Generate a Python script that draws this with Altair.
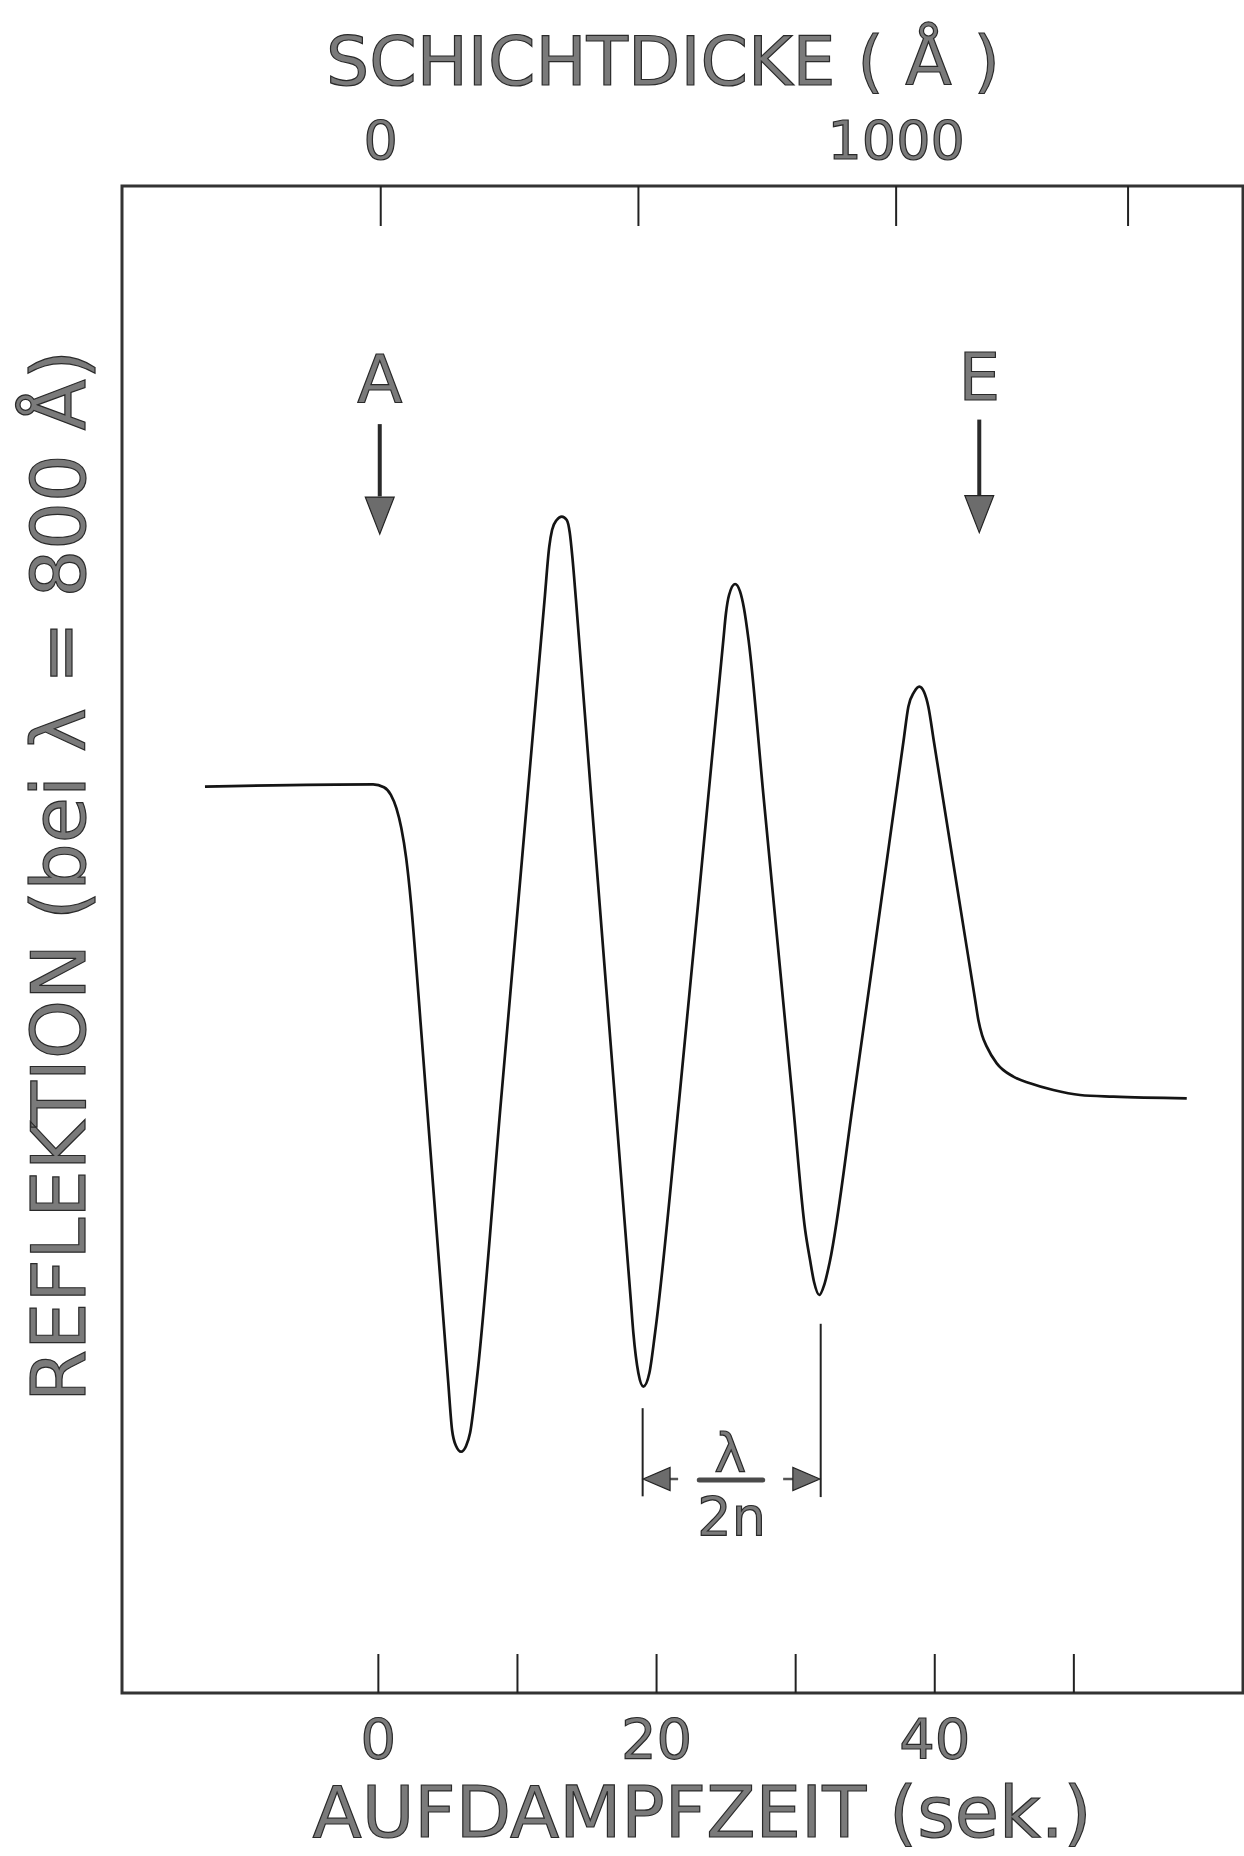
import altair as alt
import pandas as pd

# Reflection trace recorded during evaporation: time (s) and reflectance (arb. units)
time_s = [-12.465, -0.381, 0.4, 0.9, 1.3, 1.65, 2.0, 2.35, 2.7, 3.03, 3.46, 4.016, 4.58,
          5.011, 5.299, 5.586, 5.946, 6.306, 6.592, 7.074, 8.821, 10.697, 11.948, 12.286,
          12.488, 12.825, 13.185, 13.544, 13.76, 13.955, 14.206, 15.320, 17.017, 18.146,
          18.332, 18.692, 19.051, 19.483, 19.892, 21.625, 23.696, 24.802, 24.989, 25.212,
          25.643, 26.00, 26.28, 26.614, 27.714, 29.784, 30.683, 31.035, 31.323, 31.704,
          32.06, 32.45, 34.155, 36.161, 37.764, 38.102, 38.512, 38.893, 39.231, 39.540,
          39.921, 41.754, 42.905, 43.135, 43.401, 43.739, 44.457, 45.651, 46.851, 48.526,
          50.446, 52.840, 58.117]
reflection = [60.15, 60.29, 60.1, 59.6, 58.7, 57.4, 55.4, 52.4, 48.5, 44.54, 39.38, 32.71,
              25.94, 20.77, 17.45, 16.39, 16.01, 16.39, 17.25, 20.77, 39.35, 59.26, 72.53,
              76.07, 77.17, 77.84, 78.06, 77.84, 77.0, 75.3, 72.53, 59.26, 39.35, 26.08,
              23.89, 21.23, 20.33, 21.23, 23.89, 39.35, 59.26, 69.88, 71.65, 72.86,
              73.59, 73.1, 72.0, 69.88, 59.26, 39.35, 30.72, 28.73, 27.27, 26.41,
              27.1, 28.6, 39.35, 52.62, 63.24, 65.45, 66.42, 66.78, 66.42, 65.45,
              63.24, 52.62, 45.99, 44.66, 43.66, 42.89, 41.78, 40.90, 40.46, 40.01,
              39.68, 39.57, 39.46]

# Axis ticks (drawn inside the frame) and their labels
time_ticks = [0, 10, 20, 30, 40, 50]
time_labels = [0, 20, 40]
thickness_ticks = [0, 500, 1000, 1450]
thickness_labels = [0, 1000]

# Start (A) and end (E) of evaporation
marker_names = ["A", "E"]
marker_time = [0.1, 43.2]
marker_text_r = [85.7, 85.8]
marker_shaft_top = [84.2, 84.5]
marker_head_base = [79.4, 79.4]
marker_tip = [76.9, 77.0]

# Spacing between two neighbouring minima: lambda / 2n
bracket_time = [19.0, 31.8]
bracket_low = [13.05, 13.0]
bracket_high = [18.9, 24.5]
arrow_r = 14.2
arrow_tip_time = [19.03, 31.74]
arrow_stub_from = [20.6, 29.1]
arrow_stub_to = [21.55, 30.3]
fraction_bar = [23.07, 27.63]
fraction_r = 14.13
fraction_time = 25.3
numerator_r = 14.66
denominator_r = 10.48

T_DOMAIN = [-18.43, 62.16]
A_DOMAIN = [-502, 1673]
R_DOMAIN = [0, 100]

W, H = 1121, 1507
FONT = "DejaVu Sans"
INK = "#141414"
TEXT_FILL = "#7a7a7a"
TEXT_STROKE = "#2a2a2a"

xs = alt.Scale(domain=T_DOMAIN, nice=False, zero=False)
xa = alt.Scale(domain=A_DOMAIN, nice=False, zero=False)
ys = alt.Scale(domain=R_DOMAIN, nice=False, zero=False)


def tx(field="t"):
    return alt.X(f"{field}:Q", scale=xs, axis=None)


def ax(field="a"):
    return alt.X(f"{field}:Q", scale=xa, axis=None)


def ry(field="r"):
    return alt.Y(f"{field}:Q", scale=ys, axis=None)


def lettering(size, **kw):
    return dict(font=FONT, fontSize=size, fill=TEXT_FILL, stroke=TEXT_STROKE,
                strokeWidth=1.2, **kw)


curve_df = pd.DataFrame({"t": time_s, "r": reflection})
curve = alt.Chart(curve_df).mark_line(
    interpolate="monotone", color=INK, strokeWidth=2.7
).encode(x=tx(), y=ry())

# ticks inside the frame
bottom_ticks = alt.Chart(pd.DataFrame({"t": time_ticks})).mark_rule(
    color="#222222", strokeWidth=2
).encode(x=tx(), y=alt.value(H), y2=alt.value(H - 39))

top_ticks = alt.Chart(pd.DataFrame({"a": thickness_ticks})).mark_rule(
    color="#222222", strokeWidth=2
).encode(x=ax(), y=alt.value(0), y2=alt.value(40))

bottom_labels = alt.Chart(pd.DataFrame({"t": time_labels})).mark_text(
    **lettering(56, baseline="alphabetic", align="center")
).encode(x=tx(), y=alt.value(H + 65), text="t:Q")

top_labels = alt.Chart(pd.DataFrame({"a": thickness_labels})).mark_text(
    **lettering(54, baseline="alphabetic", align="center")
).encode(x=ax(), y=alt.value(-27), text="a:Q")

# axis titles
top_title = alt.Chart(pd.DataFrame({"s": ["SCHICHTDICKE ( Å )"]})).mark_text(
    **lettering(68, baseline="alphabetic", align="center")
).encode(x=alt.value(541), y=alt.value(-101), text="s:N")

bottom_title = alt.Chart(pd.DataFrame({"s": ["AUFDAMPFZEIT (sek.)"]})).mark_text(
    **lettering(72, baseline="alphabetic", align="center")
).encode(x=alt.value(580), y=alt.value(H + 144), text="s:N")

left_title = alt.Chart(pd.DataFrame({"s": ["REFLEKTION (bei λ = 800 Å)"]})).mark_text(
    **lettering(75, baseline="alphabetic", align="center", angle=270)
).encode(x=alt.value(-37), y=alt.value(690), text="s:N")

# A / E markers
markers_df = pd.DataFrame({
    "name": marker_names, "t": marker_time, "rt": marker_text_r,
    "top": marker_shaft_top, "base": marker_head_base, "tip": marker_tip,
})
marker_text = alt.Chart(markers_df).mark_text(
    **lettering(66, baseline="alphabetic", align="center")
).encode(x=tx(), y=ry("rt"), text="name:N")

marker_shaft = alt.Chart(markers_df).mark_rule(color="#2a2a2a", strokeWidth=4).encode(
    x=tx(), y=ry("top"), y2="base:Q"
)

marker_head = alt.Chart(markers_df).mark_point(
    shape="M 0 0 L -0.78 -2 L 0.78 -2 Z", size=1369, filled=True,
    color="#6c6c6c", stroke="#222222", strokeWidth=1.2, opacity=1
).encode(x=tx(), y=ry("tip"))

# lambda / 2n bracket
bracket_df = pd.DataFrame({"t": bracket_time, "lo": bracket_low, "hi": bracket_high})
bracket = alt.Chart(bracket_df).mark_rule(color="#222222", strokeWidth=2).encode(
    x=tx(), y=ry("lo"), y2="hi:Q"
)

stub_df = pd.DataFrame({"t": arrow_stub_from, "t2": arrow_stub_to, "r": [arrow_r, arrow_r]})
stubs = alt.Chart(stub_df).mark_rule(color="#555555", strokeWidth=2.5).encode(
    x=tx(), x2="t2:Q", y=ry()
)

left_head = alt.Chart(pd.DataFrame({"t": [arrow_tip_time[0]], "r": [arrow_r]})).mark_point(
    shape="M 0 0 L 2 -0.85 L 2 0.85 Z", size=729, filled=True,
    color="#6c6c6c", stroke="#222222", strokeWidth=1.2, opacity=1
).encode(x=tx(), y=ry())

right_head = alt.Chart(pd.DataFrame({"t": [arrow_tip_time[1]], "r": [arrow_r]})).mark_point(
    shape="M 0 0 L -2 -0.85 L -2 0.85 Z", size=729, filled=True,
    color="#6c6c6c", stroke="#222222", strokeWidth=1.2, opacity=1
).encode(x=tx(), y=ry())

bar = alt.Chart(pd.DataFrame({"t": [fraction_bar[0]], "t2": [fraction_bar[1]], "r": [fraction_r]})).mark_rule(
    color="#4a4a4a", strokeWidth=5, strokeCap="round"
).encode(x=tx(), x2="t2:Q", y=ry())

fraction_df = pd.DataFrame({
    "t": [fraction_time, fraction_time + 0.1],
    "r": [numerator_r, denominator_r],
    "s": ["λ", "2n"],
})
fraction_text = alt.Chart(fraction_df).mark_text(
    **lettering(54, baseline="alphabetic", align="center")
).encode(x=tx(), y=ry(), text="s:N")

chart = alt.layer(
    curve, bottom_ticks, bottom_labels, bottom_title, left_title,
    marker_shaft, marker_head, marker_text,
    bracket, stubs, left_head, right_head, bar, fraction_text,
    top_ticks, top_labels, top_title,
).resolve_scale(x="independent").properties(
    width=W, height=H,
    padding={"left": 122, "top": 186, "right": 1, "bottom": 163},
    autosize=alt.AutoSizeParams(type="none"),
    background="white",
).configure_view(stroke="#333333", strokeWidth=3)

chart.save("out.html", embed_options={"renderer": "svg", "actions": False})
